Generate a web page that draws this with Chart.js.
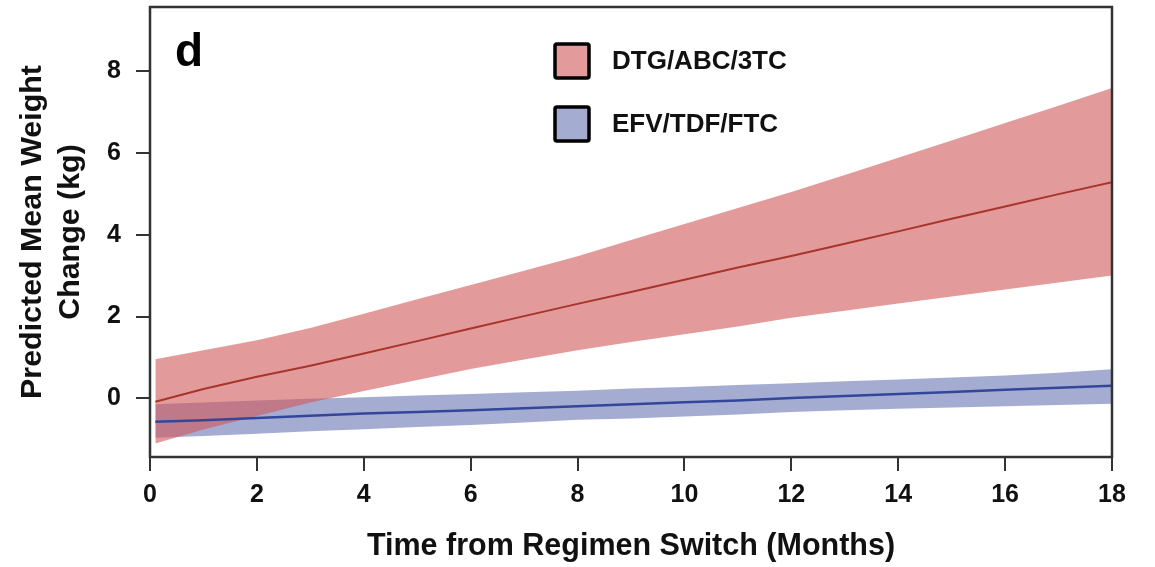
<!DOCTYPE html>
<html>
<head>
<meta charset="utf-8">
<title>Predicted mean weight change</title>
<script src="https://cdn.jsdelivr.net/npm/chart.js"></script>
<style>
    body { margin: 0; background: #fff; }
    canvas { display: block; }
</style>
</head>
<body>
<canvas id="weight-chart" width="1155" height="567"></canvas>
<script>
const months = [0.1, 1, 2, 3, 4, 5, 6, 7, 8, 9, 10, 11, 12, 13, 14, 15, 16, 17, 18];

const dtgMean  = [-0.08, 0.23, 0.53, 0.80, 1.10, 1.40, 1.71, 2.01, 2.31, 2.60, 2.90, 3.20, 3.48, 3.78, 4.08, 4.39, 4.69, 4.99, 5.28];
const dtgUpper = [0.96, 1.18, 1.42, 1.72, 2.07, 2.42, 2.77, 3.12, 3.47, 3.87, 4.26, 4.65, 5.04, 5.46, 5.88, 6.30, 6.73, 7.15, 7.58];
const dtgLower = [-1.10, -0.76, -0.43, -0.10, 0.18, 0.45, 0.72, 0.95, 1.18, 1.38, 1.57, 1.76, 1.97, 2.14, 2.32, 2.49, 2.66, 2.83, 3.00];

const efvMean  = [-0.57, -0.53, -0.48, -0.42, -0.37, -0.33, -0.29, -0.24, -0.19, -0.14, -0.09, -0.05, 0.01, 0.06, 0.11, 0.16, 0.21, 0.26, 0.31];
const efvUpper = [-0.14, -0.10, -0.05, -0.01, 0.03, 0.07, 0.11, 0.15, 0.19, 0.24, 0.28, 0.33, 0.37, 0.42, 0.46, 0.51, 0.56, 0.63, 0.71];
const efvLower = [-0.96, -0.92, -0.86, -0.80, -0.75, -0.70, -0.65, -0.59, -0.52, -0.49, -0.44, -0.39, -0.33, -0.29, -0.25, -0.22, -0.19, -0.16, -0.13];

const xTicks = [0, 2, 4, 6, 8, 10, 12, 14, 16, 18];
const yTicks = [0, 2, 4, 6, 8];

const FONT = '"Liberation Sans", Arial, sans-serif';
const AXIS_COLOR = '#333333';
const RED_FILL = 'rgba(208, 87, 87, 0.6)';
const BLUE_FILL = 'rgba(105, 117, 178, 0.6)';

function points(values) {
    return months.map((m, i) => ({ x: m, y: values[i] }));
}

function band(label, values, fill, color) {
    return {
        label: label,
        data: points(values),
        borderWidth: 0,
        pointRadius: 0,
        fill: fill,
        backgroundColor: color
    };
}

// box round the plot, the panel letter and the legend
const framePlugin = {
    id: 'frame',
    afterDraw(chart) {
        const { ctx, chartArea } = chart;
        ctx.save();
        ctx.strokeStyle = AXIS_COLOR;
        ctx.lineWidth = 2.5;
        ctx.strokeRect(chartArea.left, chartArea.top, chartArea.right - chartArea.left, chartArea.bottom - chartArea.top);

        ctx.fillStyle = '#000';
        ctx.font = 'bold 46px ' + FONT;
        ctx.textBaseline = 'alphabetic';
        ctx.fillText('d', 175, 66);

        const items = [
            { text: chart.data.datasets[2].label, color: chart.data.datasets[2].backgroundColor, y: 42 },
            { text: chart.data.datasets[4].label, color: chart.data.datasets[4].backgroundColor, y: 105 }
        ];
        ctx.font = 'bold 26px ' + FONT;
        ctx.textBaseline = 'middle';
        items.forEach((item) => {
            ctx.fillStyle = '#fff';
            ctx.fillRect(555, item.y + 2, 34, 34);
            ctx.fillStyle = item.color;
            ctx.fillRect(555, item.y + 2, 34, 34);
            ctx.strokeStyle = '#000';
            ctx.lineWidth = 3.5;
            ctx.beginPath();
            ctx.roundRect(555, item.y + 2, 34, 34, 2);
            ctx.stroke();
            ctx.fillStyle = '#111';
            ctx.fillText(item.text, 612, item.y + 20);
        });
        ctx.restore();
    }
};

new Chart(document.getElementById('weight-chart'), {
    type: 'line',
    data: {
        datasets: [
            {
                label: 'DTG/ABC/3TC mean',
                data: points(dtgMean),
                borderColor: '#a8352c',
                borderWidth: 2,
                pointRadius: 0,
                fill: false
            },
            {
                label: 'EFV/TDF/FTC mean',
                data: points(efvMean),
                borderColor: '#34469a',
                borderWidth: 2.5,
                pointRadius: 0,
                fill: false
            },
            band('DTG/ABC/3TC', dtgUpper, '+1', RED_FILL),
            band('DTG/ABC/3TC lower', dtgLower, false, RED_FILL),
            band('EFV/TDF/FTC', efvUpper, '+1', BLUE_FILL),
            band('EFV/TDF/FTC lower', efvLower, false, BLUE_FILL)
        ]
    },
    options: {
        responsive: false,
        animation: false,
        layout: { padding: { left: 0, right: 43, top: 7, bottom: 2 } },
        plugins: {
            legend: { display: false },
            tooltip: { enabled: false }
        },
        scales: {
            x: {
                type: 'linear',
                min: 0,
                max: 18,
                afterBuildTicks: (scale) => { scale.ticks = xTicks.map((v) => ({ value: v })); },
                afterFit: (scale) => {
                    scale.height = 108;
                    scale.paddingLeft = 0;
                    scale.paddingRight = 0;
                },
                border: { display: false },
                grid: { drawOnChartArea: false, drawTicks: true, tickLength: 14, color: AXIS_COLOR, lineWidth: 2 },
                ticks: { color: '#111', padding: 9, maxRotation: 0, font: { family: FONT, size: 25, weight: 'bold' } },
                title: {
                    display: true,
                    text: 'Time from Regimen Switch (Months)',
                    color: '#111',
                    padding: { top: 0, bottom: 0 },
                    font: { family: FONT, size: 30.5, weight: 'bold' }
                }
            },
            y: {
                type: 'linear',
                min: -1.43,
                max: 9.56,
                afterBuildTicks: (scale) => { scale.ticks = yTicks.map((v) => ({ value: v })); },
                afterFit: (scale) => {
                    scale.width = 150;
                    scale.paddingTop = 0;
                    scale.paddingBottom = 0;
                },
                border: { display: false },
                grid: { drawOnChartArea: false, drawTicks: true, tickLength: 14, color: AXIS_COLOR, lineWidth: 2 },
                ticks: { color: '#111', padding: 15, font: { family: FONT, size: 25, weight: 'bold' } },
                title: {
                    display: true,
                    text: ['Predicted Mean Weight', 'Change (kg)'],
                    color: '#111',
                    padding: { top: 14, bottom: 0 },
                    font: { family: FONT, size: 30.4, weight: 'bold', lineHeight: 1.25 }
                }
            }
        }
    },
    plugins: [framePlugin]
});
</script>
</body>
</html>
